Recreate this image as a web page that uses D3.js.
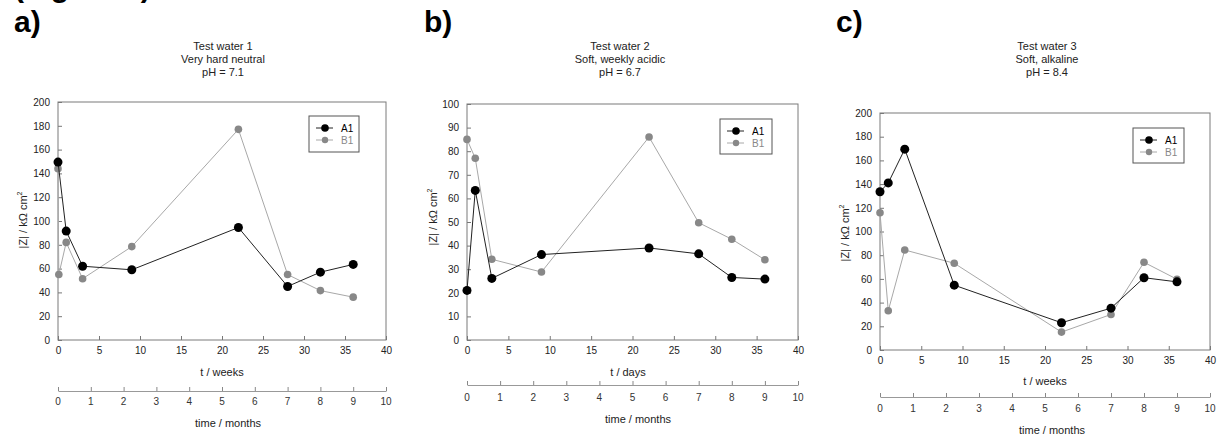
<!DOCTYPE html>
<html>
<head>
<meta charset="utf-8">
<script src="https://cdn.jsdelivr.net/npm/d3@7"></script>
<style>
body { margin: 0; background: #fff; }
svg { font-family: "Liberation Sans", Arial, sans-serif; display: block; }
</style>
</head>
<body>
<script>
// data
var weeks = [0, 1, 3, 9, 22, 28, 32, 36];
var weeksB1a = [0, 0.1, 1, 3, 9, 22, 28, 32, 36];

var a_A1 = [149.5, 91.5, 62, 59, 94.5, 45, 57, 63.5];
var a_B1 = [144, 55, 82, 51.5, 78.5, 177, 55, 41.5, 36];
var b_A1 = [21, 63.4, 26.1, 36.2, 39, 36.5, 26.5, 25.8];
var b_B1 = [85, 77, 34.2, 28.8, 86, 49.7, 42.7, 34];
var c_A1 = [133.5, 141, 169.5, 54.7, 23, 35.3, 61, 57.5];
var c_B1 = [115.8, 33.1, 84.4, 73.2, 15.1, 30, 74, 59.7];

var seriesNames = ["A1", "B1"];
var letters = ["a)", "b)", "c)"];
var titles = [
  ["Test water 1", "Very hard neutral", "pH = 7.1"],
  ["Test water 2", "Soft, weekly acidic", "pH = 6.7"],
  ["Test water 3", "Soft, alkaline", "pH = 8.4"]
];
var xLabels = ["t / weeks", "t / days", "t / weeks"];
var yMax = [200, 100, 200];
var yStep = [20, 10, 20];
var xTicks = [0, 5, 10, 15, 20, 25, 30, 35, 40];
var months = [0, 1, 2, 3, 4, 5, 6, 7, 8, 9, 10];

var panelData = [
  [{x: weeks, y: a_A1}, {x: weeksB1a, y: a_B1}],
  [{x: weeks, y: b_A1}, {x: weeks, y: b_B1}],
  [{x: weeks, y: c_A1}, {x: weeks, y: c_B1}]
];

// layout (pixels)
var layout = [
  {l: 58, r: 386, t: 102, b: 340, letterX: 14, titleX: 223, yLabX: 23, yLabY: 220,
   xTitleY: 376, xTitleX: 222, mLine: 391, mLab: 405, mTitleY: 427, mTitleX: 228,
   leg: {x: 309, y: 116, w: 50, h: 36}},
  {l: 467, r: 798, t: 104, b: 340, letterX: 424, titleX: 620, yLabX: 433, yLabY: 217,
   xTitleY: 376, xTitleX: 628, mLine: 385, mLab: 401, mTitleY: 423, mTitleX: 638,
   leg: {x: 720, y: 119, w: 52, h: 35}},
  {l: 880, r: 1210, t: 113, b: 350, letterX: 836, titleX: 1047, yLabX: 845, yLabY: 233,
   xTitleY: 385, xTitleX: 1045, mLine: 397, mLab: 412, mTitleY: 434, mTitleX: 1052,
   leg: {x: 1133, y: 128, w: 51, h: 35}}
];

var lineCol = ["#222", "#a8a8a8"];
var dotCol = ["#000", "#888"];
var dotR = [4.5, 3.8];

var svg = d3.select("body").append("svg")
    .attr("width", 1223)
    .attr("height", 437);

// clipped caption line at the very top
svg.append("text")
    .attr("x", 14).attr("y", -3)
    .style("font-size", "30px").style("font-weight", "bold")
    .text("(Figure 4)");

layout.forEach(function(L, p) {
  var g = svg.append("g");

  var x = d3.scaleLinear().domain([0, 40]).range([L.l, L.r]);
  var y = d3.scaleLinear().domain([0, yMax[p]]).range([L.b, L.t]);
  var xm = d3.scaleLinear().domain([0, 10]).range([L.l, L.r]);

  g.append("text")
      .attr("x", L.letterX).attr("y", 32)
      .style("font-size", "30px").style("font-weight", "bold")
      .text(letters[p]);

  g.selectAll(".title").data(titles[p]).enter().append("text")
      .attr("x", L.titleX)
      .attr("y", function(d, i) { return 50 + i * 13; })
      .attr("text-anchor", "middle")
      .style("font-size", "11px").attr("fill", "#222")
      .text(function(d) { return d; });

  // axes, ticks pointing inward
  var yAxis = d3.axisLeft(y).tickValues(d3.range(0, yMax[p] + 1, yStep[p]))
      .tickSizeInner(-4).tickSizeOuter(0).tickPadding(8);
  var xAxis = d3.axisBottom(x).tickValues(xTicks)
      .tickSizeInner(-4).tickSizeOuter(0).tickPadding(8);

  var ya = g.append("g").attr("transform", "translate(" + L.l + ",0)").call(yAxis);
  var xa = g.append("g").attr("transform", "translate(0," + L.b + ")").call(xAxis);
  [ya, xa].forEach(function(a) {
    a.select(".domain").remove();
    a.selectAll("line").attr("stroke", "#777");
    a.selectAll("text").style("font-size", "10px").attr("fill", "#222")
        .style("font-family", "'Liberation Sans', Arial, sans-serif");
  });
  xa.selectAll("text").attr("dy", "0.71em").attr("y", 7);

  g.append("rect")
      .attr("x", L.l).attr("y", L.t)
      .attr("width", L.r - L.l).attr("height", L.b - L.t)
      .attr("fill", "none").attr("stroke", "#7a7a7a");

  g.append("text")
      .attr("transform", "translate(" + (L.yLabX + 4) + "," + L.yLabY + ") rotate(-90)")
      .attr("text-anchor", "middle")
      .style("font-size", "11px").attr("fill", "#222")
      .html("|Z| / k&#937; cm<tspan dy='-5' font-size='7px'>2</tspan>");

  g.append("text")
      .attr("x", L.xTitleX).attr("y", L.xTitleY)
      .attr("text-anchor", "middle")
      .style("font-size", "11px").attr("fill", "#222")
      .text(xLabels[p]);

  // secondary month scale
  var mAxis = d3.axisTop(xm).tickValues(months).tickSizeInner(4).tickSizeOuter(0).tickFormat("");
  var ma = g.append("g").attr("transform", "translate(0," + L.mLine + ")").call(mAxis);
  ma.select(".domain").attr("stroke", "#999");
  ma.selectAll("line").attr("stroke", "#888");
  g.selectAll(".mlab").data(months).enter().append("text")
      .attr("x", function(d) { return xm(d); })
      .attr("y", L.mLab)
      .attr("text-anchor", "middle")
      .style("font-size", "10px").attr("fill", "#333")
      .text(function(d) { return d; });
  g.append("text")
      .attr("x", L.mTitleX).attr("y", L.mTitleY)
      .attr("text-anchor", "middle")
      .style("font-size", "11px").attr("fill", "#222")
      .text("time / months");

  // series: B1 first so A1 sits on top
  var line = d3.line().x(function(d) { return x(d[0]); }).y(function(d) { return y(d[1]); });
  [1, 0].forEach(function(s) {
    var pts = d3.zip(panelData[p][s].x, panelData[p][s].y);
    g.append("path").datum(pts)
        .attr("d", line)
        .attr("fill", "none")
        .attr("stroke", lineCol[s])
        .attr("stroke-width", 1);
    g.selectAll(".dot" + s).data(pts).enter().append("circle")
        .attr("cx", function(d) { return x(d[0]); })
        .attr("cy", function(d) { return y(d[1]); })
        .attr("r", dotR[s])
        .attr("fill", dotCol[s]);
  });

  // legend
  var lg = g.append("g").attr("transform", "translate(" + L.leg.x + "," + L.leg.y + ")");
  lg.append("rect").attr("width", L.leg.w).attr("height", L.leg.h)
      .attr("fill", "#fff").attr("stroke", "#555");
  seriesNames.forEach(function(name, s) {
    var yy = 12 + s * 12;
    lg.append("line").attr("x1", 7).attr("x2", 24).attr("y1", yy).attr("y2", yy)
        .attr("stroke", lineCol[s]);
    lg.append("circle").attr("cx", 16).attr("cy", yy).attr("r", s ? 3.2 : 3.8)
        .attr("fill", dotCol[s]);
    lg.append("text").attr("x", 32).attr("y", yy + 4)
        .style("font-size", "10px").attr("fill", s ? "#888" : "#000")
        .text(name);
  });
});
</script>
</body>
</html>
